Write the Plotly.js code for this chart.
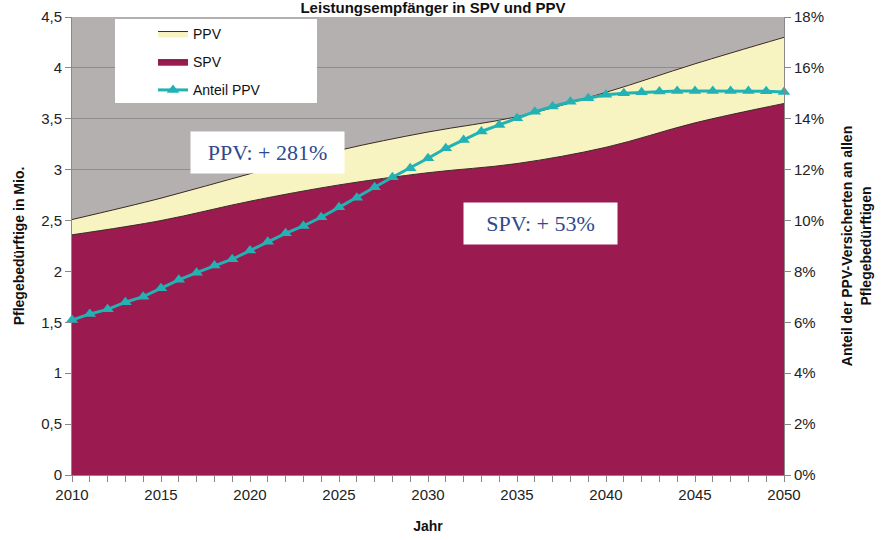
<!DOCTYPE html>
<html>
<head>
<meta charset="utf-8">
<script src="https://cdn.plot.ly/plotly-3.0.1.min.js"></script>
<style>html,body{margin:0;padding:0;background:#fff;}#chart{width:882px;height:540px;}</style>
</head>
<body>
<div id="chart"></div>
<script>
// Areas (million persons), read every 5 years
var yearsArea = [2010, 2015, 2020, 2025, 2030, 2035, 2040, 2045, 2050];
var spv = [2.36, 2.50, 2.69, 2.85, 2.97, 3.06, 3.22, 3.46, 3.65];
var ppv = [0.15, 0.22, 0.27, 0.34, 0.40, 0.46, 0.54, 0.58, 0.65];

// Share of PPV insured among all care recipients (%), yearly
var yearsShare = [2010,2011,2012,2013,2014,2015,2016,2017,2018,2019,2020,2021,2022,2023,2024,2025,2026,2027,2028,2029,2030,2031,2032,2033,2034,2035,2036,2037,2038,2039,2040,2041,2042,2043,2044,2045,2046,2047,2048,2049,2050];
var anteilPPV = [6.09,6.33,6.51,6.79,7.01,7.34,7.67,7.95,8.23,8.48,8.82,9.17,9.50,9.79,10.13,10.52,10.90,11.31,11.70,12.06,12.45,12.84,13.17,13.50,13.76,14.02,14.28,14.48,14.67,14.81,14.94,15.00,15.04,15.07,15.09,15.09,15.09,15.09,15.09,15.08,15.05];

var leftTicks = [0, 0.5, 1, 1.5, 2, 2.5, 3, 3.5, 4, 4.5];
var leftTickText = ['0', '0,5', '1', '1,5', '2', '2,5', '3', '3,5', '4', '4,5'];
var rightTicks = [0, 2, 4, 6, 8, 10, 12, 14, 16, 18];
var rightTickText = ['0%', '2%', '4%', '6%', '8%', '10%', '12%', '14%', '16%', '18%'];
var xTicks = [2010, 2015, 2020, 2025, 2030, 2035, 2040, 2045, 2050];

var titleText = 'Leistungsempfänger in SPV und PPV';
var noteText = ['PPV: + 281%', 'SPV: + 53%'];
var notePos = [[2020.96, 3.17], [2036.3, 2.475]];

var FONT = 'Liberation Sans, Arial, sans-serif';

var traces = [
  {
    x: yearsArea, y: spv, name: 'SPV', type: 'scatter', mode: 'lines',
    stackgroup: 'a', line: {shape: 'spline', color: '#3b2a24', width: 1},
    fillcolor: '#9B1B50', legendrank: 2, legendgroup: 'g2', hoverinfo: 'skip'
  },
  {
    x: yearsArea, y: ppv, name: 'PPV', type: 'scatter', mode: 'lines',
    stackgroup: 'a', line: {shape: 'spline', color: '#3b2a24', width: 1},
    fillcolor: '#F8F4C2', legendrank: 1, legendgroup: 'g1', hoverinfo: 'skip'
  },
  {
    x: yearsShare, y: anteilPPV, name: 'Anteil PPV', type: 'scatter', mode: 'lines+markers',
    yaxis: 'y2', cliponaxis: false,
    line: {color: '#22B2B4', width: 3},
    marker: {symbol: 'triangle-up', size: 11, color: '#22B2B4'},
    legendrank: 3, legendgroup: 'g3', hoverinfo: 'skip'
  }
];

var annotations = noteText.map(function (t, i) {
  return {
    x: notePos[i][0], y: notePos[i][1], xref: 'x', yref: 'y',
    text: t, showarrow: false, bgcolor: '#ffffff',
    width: 151, height: 39,
    font: {family: 'Liberation Serif, Times New Roman, serif', size: 22, color: '#2F4A8C'}
  };
});

var layout = {
  width: 882, height: 540,
  margin: {l: 72, r: 98, t: 17, b: 65},
  paper_bgcolor: '#ffffff',
  plot_bgcolor: '#B3B0AF',
  font: {family: FONT, size: 14, color: '#222'},
  title: {
    text: '<b>' + titleText + '</b>',
    font: {family: FONT, size: 15, color: '#111'},
    x: 0.507, xanchor: 'center', xref: 'paper',
    yref: 'container', y: 1 - 2 / 540, yanchor: 'top', pad: {t: 0, b: 0}
  },
  showlegend: true,
  legend: {
    x: (153 - 72) / 712, y: 0.998, xanchor: 'left', yanchor: 'top',
    bgcolor: 'rgba(0,0,0,0)', borderwidth: 0,
    font: {family: FONT, size: 14, color: '#111'},
    tracegroupgap: 7, itemwidth: 30
  },
  shapes: [{
    type: 'rect', xref: 'paper', yref: 'paper', layer: 'above',
    x0: (115 - 72) / 712, x1: (317 - 72) / 712,
    y0: (475 - 103) / 458, y1: (475 - 19) / 458,
    fillcolor: '#ffffff', line: {width: 0}
  }],
  xaxis: {
    range: [2010, 2050], tickmode: 'array', tickvals: xTicks,
    ticks: 'outside', ticklen: 6, tickcolor: '#888',
    minor: {dtick: 1, tick0: 2010, ticks: 'outside', ticklen: 6, tickcolor: '#888', showgrid: false},
    showgrid: false, zeroline: false,
    showline: true, linecolor: '#888', linewidth: 1,
    tickfont: {family: FONT, size: 15, color: '#222'},
    title: {text: '<b>Jahr</b>', font: {family: FONT, size: 14, color: '#111'}, standoff: 19}
  },
  yaxis: {
    range: [0, 4.5], tickmode: 'array', tickvals: leftTicks, ticktext: leftTickText,
    ticks: 'outside', ticklen: 6, tickcolor: '#888',
    showgrid: true, gridcolor: '#8E8C8C', gridwidth: 1,
    zeroline: false, showline: true, linecolor: '#888', linewidth: 1,
    tickfont: {family: FONT, size: 15, color: '#222'},
    title: {text: '<b>Pflegebedürftige in Mio.</b>', font: {family: FONT, size: 14, color: '#111'}, standoff: 13}
  },
  yaxis2: {
    overlaying: 'y', side: 'right', range: [0, 18],
    tickmode: 'array', tickvals: rightTicks, ticktext: rightTickText,
    ticks: 'outside', ticklen: 6, tickcolor: '#888',
    showgrid: false, zeroline: false, showline: true, linecolor: '#888', linewidth: 1,
    tickfont: {family: FONT, size: 15, color: '#222'},
    title: {text: '<b>Anteil der PPV-Versicherten an allen<br>Pflegebedürftigen</b>', font: {family: FONT, size: 14, color: '#111'}, standoff: 19}
  },
  annotations: annotations
};

Plotly.newPlot('chart', traces, layout, {displayModeBar: false, staticPlot: true});
</script>
</body>
</html>
